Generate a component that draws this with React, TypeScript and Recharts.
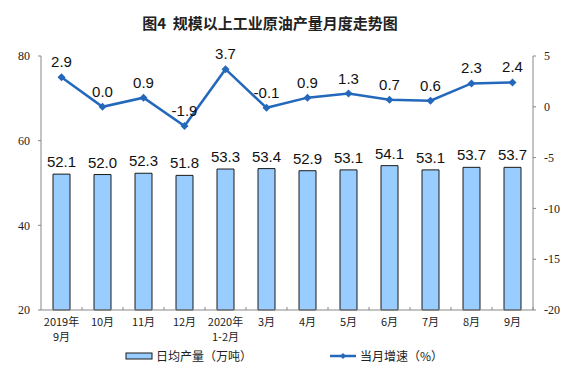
import React from 'react';
import { ComposedChart, Bar, Line, XAxis, YAxis, LabelList } from 'recharts';

const categories = ['2019年\n9月', '10月', '11月', '12月', '2020年\n1-2月', '3月', '4月', '5月', '6月', '7月', '8月', '9月'];
const dailyOutput = [52.1, 52.0, 52.3, 51.8, 53.3, 53.4, 52.9, 53.1, 54.1, 53.1, 53.7, 53.7];
const growthRate = [2.9, 0.0, 0.9, -1.9, 3.7, -0.1, 0.9, 1.3, 0.7, 0.6, 2.3, 2.4];
const leftTicks = [20, 40, 60, 80];
const rightTicks = [-20, -15, -10, -5, 0, 5];

const data = categories.map((c, i) => ({ name: c, output: dailyOutput[i], growth: growthRate[i] }));

const BAR_FILL = '#99CCFF';
const LINE_COLOR = '#2468BC';
const CJK = '"Noto Sans CJK SC", "Noto Sans", sans-serif';
const SERIF = '"Liberation Serif", "DejaVu Serif", serif';
const SANS = '"Liberation Sans", Arial, sans-serif';

const XTick = (props: any) => {
  const { x, y, payload } = props;
  const lines = String(payload.value).split('\n');
  const half = 20.5;
  const axisY = y - 8;
  return (
    <g>
      <line x1={x + half} x2={x + half} y1={axisY} y2={axisY - 3} stroke="#888" />
      <text x={x} y={y + 8} textAnchor="middle" fontSize={11} fontFamily={CJK} fill="#222">
        {lines.map((l, i) => (
          <tspan key={i} x={x} dy={i === 0 ? 0 : 15}>{l}</tspan>
        ))}
      </text>
    </g>
  );
};

const Diamond = (props: any) => {
  const { cx, cy } = props;
  if (cx == null || cy == null) return null;
  const r = 4;
  return <path d={`M${cx},${cy - r}L${cx + r},${cy}L${cx},${cy + r}L${cx - r},${cy}Z`} fill={LINE_COLOR} />;
};

const LegendBlock = () => (
  <svg width={577} height={20} style={{ position: 'absolute', left: 0, top: 346 }}>
    <rect x={126} y={7} width={26} height={6} fill={BAR_FILL} stroke="#1a1a1a" strokeWidth={1} />
    <text x={156} y={15} fontSize={12} fontFamily={CJK} fill="#222">日均产量（万吨）</text>
    <line x1={330} x2={356} y1={10} y2={10} stroke={LINE_COLOR} strokeWidth={2.5} />
    <path d="M343,7L346,10L343,13L340,10Z" fill={LINE_COLOR} />
    <text x={360} y={15} fontSize={12} fontFamily={CJK} fill="#222">当月增速（%）</text>
  </svg>
);

export default function App() {
  return (
    <div style={{ position: 'absolute', left: 0, top: 0, width: 577, height: 390, background: '#fff' }}>
      <div
        style={{
          position: 'absolute', top: 12, left: 0, width: 540, textAlign: 'center',
          fontFamily: CJK, fontSize: 15, fontWeight: 700, color: '#222', whiteSpace: 'pre'
        }}
      >
        {'图4  规模以上工业原油产量月度走势图'}
      </div>
      <div style={{ position: 'absolute', left: 0, top: 0 }}>
        <ComposedChart
          width={577}
          height={390}
          data={data}
          margin={{ top: 56, right: 0, left: 0, bottom: 50 }}
          barCategoryGap={0}
        >
          <XAxis
            dataKey="name"
            xAxisId="x"
            axisLine={{ stroke: '#888' }}
            tickLine={false}
            tick={<XTick />}
            interval={0}
            height={30}
          />
          <YAxis
            yAxisId="left"
            orientation="left"
            domain={[20, 80]}
            ticks={leftTicks}
            width={41}
            axisLine={{ stroke: '#888' }}
            tickLine={{ stroke: '#888' }}
            tickSize={3}
            tick={{ fontSize: 12, fontFamily: SERIF, fill: '#222' }}
            tickMargin={8}
          />
          <YAxis
            yAxisId="right"
            orientation="right"
            domain={[-20, 5]}
            ticks={rightTicks}
            width={44}
            axisLine={{ stroke: '#888' }}
            tickLine={{ stroke: '#888' }}
            tickSize={3}
            tick={{ fontSize: 12, fontFamily: SERIF, fill: '#222' }}
            tickMargin={8}
          />
          <Bar
            dataKey="output"
            xAxisId="x"
            yAxisId="left"
            barSize={17}
            fill={BAR_FILL}
            stroke="#1a1a1a"
            strokeWidth={1}
            isAnimationActive={false}
          >
            <LabelList dataKey="output" position="top" offset={7} fontSize={15} fontFamily={SANS} fill="#111"
              formatter={(v: any) => Number(v).toFixed(1)} />
          </Bar>
          <Line
            dataKey="growth"
            xAxisId="x"
            yAxisId="right"
            stroke={LINE_COLOR}
            strokeWidth={2.5}
            dot={<Diamond />}
            activeDot={false}
            isAnimationActive={false}
          >
            <LabelList dataKey="growth" position="top" offset={10} fontSize={15} fontFamily={SANS} fill="#111"
              formatter={(v: any) => Number(v).toFixed(1)} />
          </Line>
        </ComposedChart>
      </div>
      <LegendBlock />
    </div>
  );
}
